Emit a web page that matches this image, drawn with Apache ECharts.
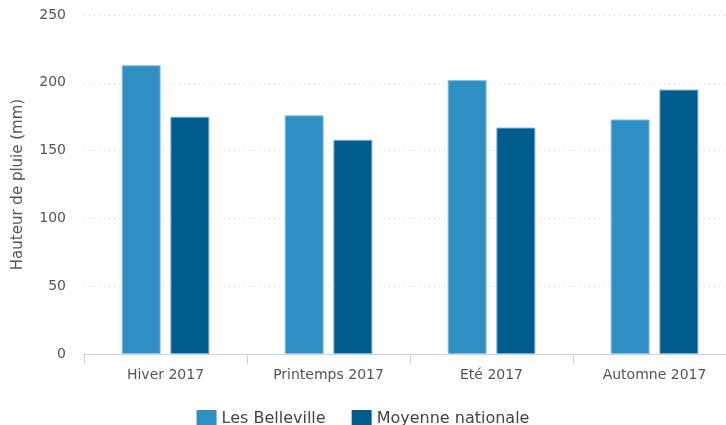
<!DOCTYPE html>
<html lang="fr">
<head>
    <meta charset="UTF-8">
    <title>Hauteur de pluie 2017</title>
    <script src="https://cdn.jsdelivr.net/npm/echarts@6/dist/echarts.min.js"></script>
</head>
<body style="margin:0;">
    <div id="main" style="width: 726px;height:425px;"></div>
    <script type="text/javascript">
        // données
        var saisons = ['Hiver 2017', 'Printemps 2017', 'Eté 2017', 'Automne 2017'];
        var lesBelleville = [213, 176, 202, 173];
        var moyenneNationale = [175, 158, 167, 195];

        var myChart = echarts.init(document.getElementById('main'));
        var texte = '#555';
        var police = 'DejaVu Sans';

        var option = {
            textStyle: {fontFamily: police},
            grid: {
                left: 84,
                top: 15,
                width: 652,
                height: 339,
                outerBoundsMode: 'none' // la grille déborde un peu à droite
            },
            legend: {
                top: 405,
                left: 'center',
                itemWidth: 20,
                itemHeight: 17,
                itemGap: 26,
                icon: 'rect',
                itemStyle: {borderWidth: 0},
                textStyle: {color: '#444', fontSize: 16, fontFamily: police},
                data: ['Les Belleville', 'Moyenne nationale']
            },
            xAxis: {
                type: 'category',
                data: saisons,
                axisLine: {lineStyle: {color: '#c5d3e3'}},
                axisTick: {show: true, length: 10, lineStyle: {color: '#c5d3e3'}},
                axisLabel: {color: texte, fontSize: 14, margin: 14}
            },
            yAxis: {
                type: 'value',
                min: 0,
                max: 250,
                interval: 50,
                name: 'Hauteur de pluie (mm)',
                nameLocation: 'middle',
                nameGap: 58,
                nameTextStyle: {color: texte, fontSize: 15},
                axisLine: {show: false},
                axisTick: {show: false},
                axisLabel: {color: texte, fontSize: 14, margin: 18},
                splitLine: {lineStyle: {color: '#d4d4d4', type: [1, 4]}}
            },
            series: [
                {
                    name: 'Les Belleville',
                    type: 'bar',
                    data: lesBelleville,
                    barWidth: 39,
                    barGap: '25%',
                    itemStyle: {color: '#2f8fc3', borderColor: '#8ec2e2', borderWidth: 1}
                },
                {
                    name: 'Moyenne nationale',
                    type: 'bar',
                    data: moyenneNationale,
                    barWidth: 39,
                    barGap: '25%',
                    itemStyle: {color: '#005c8e', borderColor: '#7fb3d3', borderWidth: 1}
                }
            ]
        };

        myChart.setOption(option);
    </script>
</body>
</html>
